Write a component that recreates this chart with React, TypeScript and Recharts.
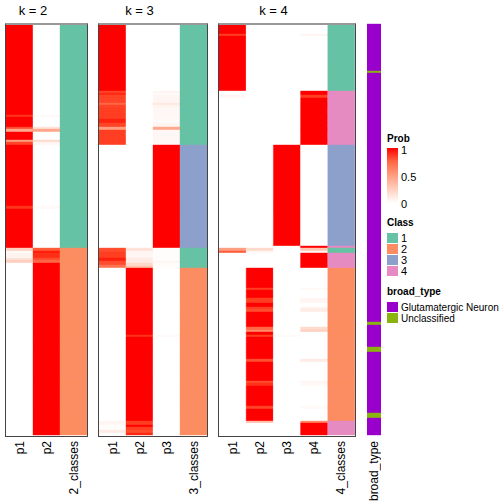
import React from 'react';
import { BarChart, Bar, XAxis, YAxis, Cell } from 'recharts';

// rows are counted from the top of the heatmap body; each run is [last row, value]
const N_ROWS = 411;

const k2p1 = [[91, 1], [93, 0.92], [103, 1], [105, 0.85], [108, 0.45], [116, 1], [118, 0.5], [121, 0.88], [182, 1], [185, 0.92], [224, 1], [227, 0.25], [229, 0.02], [234, 0.06], [236, 0.15], [239, 0.25], [411, 0]];
const k2p2 = [[91, 0], [93, 0.03], [103, 0], [105, 0.15], [108, 0.45], [116, 0], [118, 0.2], [121, 0.05], [182, 0], [185, 0.03], [224, 0], [227, 0.8], [229, 0.97], [234, 0.94], [236, 0.85], [239, 0.75], [411, 1]];
const k2cls = [[224, 1], [411, 2]];

const k3p1 = [[67, 1], [69, 0.88], [71, 0.95], [79, 0.88], [81, 0.75], [84, 0.88], [95, 0.9], [99, 0.96], [103, 0.88], [106, 0.5], [121, 0.9], [224, 0], [228, 0.85], [234, 0.9], [237, 0.97], [241, 0.85], [244, 0.7], [397, 0], [401, 0.05], [406, 0.01], [409, 0.1], [411, 0.01]];
const k3p2 = [[224, 0], [227, 0.15], [234, 0.05], [239, 0.1], [242, 0.2], [244, 0.3], [311, 1], [313, 0.93], [397, 1], [401, 0.9], [403, 1], [406, 0.9], [409, 0.85], [411, 0.95]];
const k3p3 = [[67, 0], [69, 0.05], [71, 0.02], [79, 0.05], [81, 0.12], [84, 0.06], [95, 0.04], [99, 0.02], [103, 0.06], [106, 0.45], [121, 0.04], [224, 1], [237, 0.01], [239, 0.05], [244, 0.01], [311, 0], [313, 0.03], [411, 0]];
const k3cls = [[121, 1], [224, 3], [244, 1], [411, 2]];

const k4p1 = [[10, 1], [12, 0.9], [67, 1], [71, 0], [74, 0.04], [224, 0], [227, 0.5], [229, 0.8], [411, 0]];
const k4p2 = [[224, 0], [227, 0.2], [229, 0.04], [244, 0], [264, 1], [266, 0.9], [274, 1], [279, 0.9], [283, 1], [285, 0.9], [288, 0.85], [303, 1], [306, 0.75], [308, 0.6], [311, 1], [313, 0.9], [335, 1], [338, 0.85], [357, 1], [359, 0.85], [362, 0.93], [382, 1], [385, 0.88], [397, 1], [399, 0.35], [411, 0]];
const k4p3 = [[121, 0], [222, 1], [311, 0], [313, 0.03], [411, 0]];
const k4p4 = [[10, 0], [12, 0.06], [67, 0], [71, 1], [74, 0.9], [121, 1], [222, 0], [224, 1], [227, 0.3], [229, 0.03], [244, 1], [264, 0], [266, 0.03], [274, 0], [279, 0.05], [283, 0], [285, 0.06], [288, 0.1], [303, 0], [306, 0.2], [308, 0.25], [335, 0], [338, 0.1], [357, 0], [359, 0.05], [362, 0.03], [382, 0], [385, 0.03], [397, 0], [399, 0.6], [411, 1]];
const k4cls = [[67, 1], [121, 4], [222, 3], [224, 4], [229, 1], [244, 4], [397, 2], [411, 4]];

const broadType = [[47, 'Glutamatergic Neuron'], [49, 'Unclassified'], [298, 'Glutamatergic Neuron'], [301, 'Unclassified'], [323, 'Glutamatergic Neuron'], [328, 'Unclassified'], [389, 'Glutamatergic Neuron'], [394, 'Unclassified'], [411, 'Glutamatergic Neuron']];

const classColors: Record<string, string> = { 1: '#66C2A5', 2: '#FC8D62', 3: '#8DA0CB', 4: '#E78AC3' };
const broadColors: Record<string, string> = { 'Glutamatergic Neuron': '#9900CC', Unclassified: '#8BB30E' };

const FONT = '"Liberation Sans", Arial, Helvetica, sans-serif';

// white -> red in Lab space, like colorRamp2
const toLin = (c: number) => { c /= 255; return c <= 0.04045 ? c / 12.92 : ((c + 0.055) / 1.055) ** 2.4; };
const fromLin = (c: number) => { const v = c <= 0.0031308 ? 12.92 * c : 1.055 * c ** (1 / 2.4) - 0.055; return Math.max(0, Math.min(255, Math.round(v * 255))); };
const Xn = 0.95047, Yn = 1, Zn = 1.08883;
const f = (t: number) => (t > 216 / 24389 ? Math.cbrt(t) : (24389 / 27 * t + 16) / 116);
const fi = (t: number) => (t ** 3 > 216 / 24389 ? t ** 3 : (116 * t - 16) / (24389 / 27));
function rgbToLab([r, g, b]: number[]) {
  const R = toLin(r), G = toLin(g), B = toLin(b);
  const X = 0.4124 * R + 0.3576 * G + 0.1805 * B;
  const Y = 0.2126 * R + 0.7152 * G + 0.0722 * B;
  const Z = 0.0193 * R + 0.1192 * G + 0.9505 * B;
  const fx = f(X / Xn), fy = f(Y / Yn), fz = f(Z / Zn);
  return [116 * fy - 16, 500 * (fx - fy), 200 * (fy - fz)];
}
function labToHex([L, a, b]: number[]) {
  const fy = (L + 16) / 116, fx = fy + a / 500, fz = fy - b / 200;
  const X = Xn * fi(fx), Y = Yn * fi(fy), Z = Zn * fi(fz);
  const R = 3.2406 * X - 1.5372 * Y - 0.4986 * Z;
  const G = -0.9689 * X + 1.8758 * Y + 0.0415 * Z;
  const B = 0.0557 * X - 0.204 * Y + 1.057 * Z;
  return '#' + [R, G, B].map((c) => fromLin(c).toString(16).padStart(2, '0')).join('');
}
const WHITE = rgbToLab([255, 255, 255]);
const RED = rgbToLab([255, 0, 0]);
const probColor = (t: number) => labToHex(WHITE.map((w, i) => w + (RED[i] - w) * t));

type Col = { name: string; runs: (number | string)[][]; kind: 'prob' | 'class' | 'broad' };

const panels: { title?: string; left: number; width: number; cols: Col[] }[] = [
  { title: 'k = 2', left: 6, width: 81, cols: [{ name: 'p1', runs: k2p1, kind: 'prob' }, { name: 'p2', runs: k2p2, kind: 'prob' }, { name: '2_classes', runs: k2cls, kind: 'class' }] },
  { title: 'k = 3', left: 99, width: 108, cols: [{ name: 'p1', runs: k3p1, kind: 'prob' }, { name: 'p2', runs: k3p2, kind: 'prob' }, { name: 'p3', runs: k3p3, kind: 'prob' }, { name: '3_classes', runs: k3cls, kind: 'class' }] },
  { title: 'k = 4', left: 219, width: 136, cols: [{ name: 'p1', runs: k4p1, kind: 'prob' }, { name: 'p2', runs: k4p2, kind: 'prob' }, { name: 'p3', runs: k4p3, kind: 'prob' }, { name: 'p4', runs: k4p4, kind: 'prob' }, { name: '4_classes', runs: k4cls, kind: 'class' }] },
  { left: 367, width: 14, cols: [{ name: 'broad_type', runs: broadType, kind: 'broad' }] },
];

// shared row segments: every run end of every column
const allRuns = [k2p1, k2p2, k2cls, k3p1, k3p2, k3p3, k3cls, k4p1, k4p2, k4p3, k4p4, k4cls, broadType];
const ends = Array.from(new Set(allRuns.flatMap((r) => r.map((x) => x[0] as number)))).sort((a, b) => a - b);
const segments = ends.map((e, i) => ({ end: e, len: e - (i ? ends[i - 1] : 0) }));

const valueAt = (runs: (number | string)[][], end: number) => runs.find((r) => (r[0] as number) >= end)![1];
const fillFor = (c: Col, end: number) => {
  const v = valueAt(c.runs, end);
  if (c.kind === 'prob') return probColor(v as number);
  if (c.kind === 'class') return classColors[String(v)];
  return broadColors[v as string];
};

const TOP = 24;
const BOTTOM = 435;

const RotTick = (props: any) => {
  const { x, y, payload } = props;
  return (
    <text transform={`translate(${x + 4},${y}) rotate(-90)`} textAnchor="end" fontSize={12} fontFamily={FONT} fill="#000">
      {payload.value}
    </text>
  );
};

function Panel({ p }: { p: (typeof panels)[number] }) {
  const data = p.cols.map((c) => {
    const row: Record<string, number | string> = { col: c.name };
    segments.forEach((s, i) => { row[`s${i}`] = s.len; });
    return row;
  });
  const probCount = p.cols.filter((c) => c.kind === 'prob').length;
  const colW = p.width / p.cols.length;
  return (
    <div style={{ position: 'absolute', left: p.left, top: 0 }}>
      <BarChart width={p.width} height={504} data={data} barCategoryGap={0} barGap={0}
        margin={{ top: TOP, right: 0, bottom: 504 - BOTTOM - 62, left: 0 }}>
        <XAxis dataKey="col" type="category" height={62} interval={0} tickLine={false} axisLine={false}
          tickSize={0} tickMargin={6} tick={<RotTick />} />
        <YAxis type="number" hide domain={[0, N_ROWS]} reversed />
        {segments.map((s, i) => (
          <Bar key={i} dataKey={`s${i}`} stackId="a" isAnimationActive={false}>
            {p.cols.map((c, j) => {
              const fill = fillFor(c, s.end);
              return <Cell key={j} fill={fill} stroke={fill} strokeWidth={0.4} />;
            })}
          </Bar>
        ))}
      </BarChart>
      {p.title && (
        <div style={{ position: 'absolute', top: 3, left: 0, width: colW * probCount, textAlign: 'center', fontFamily: FONT, fontSize: 13 }}>
          {p.title}
        </div>
      )}
      {p.title && (
        <div style={{ position: 'absolute', left: -1, top: TOP - 1, width: p.width, height: BOTTOM - TOP, borderLeft: '1px solid #444', borderRight: '1px solid #444', borderBottom: '1px solid #444', borderTop: '2px solid #999', boxSizing: 'content-box', pointerEvents: 'none' }} />
      )}
    </div>
  );
}

const probTicks = [1, 0.5, 0];
const classLevels = ['1', '2', '3', '4'];
const broadLevels = ['Glutamatergic Neuron', 'Unclassified'];

function Legends() {
  const stops = [0, 0.25, 0.5, 0.75, 1];
  return (
    <svg width={119} height={504} style={{ position: 'absolute', left: 385, top: 0 }} fontFamily={FONT}>
      <defs>
        <linearGradient id="prob" x1="0" y1="1" x2="0" y2="0">
          {stops.map((t) => <stop key={t} offset={t} stopColor={probColor(t)} />)}
        </linearGradient>
      </defs>
      <text x={2} y={142} fontSize={10} fontWeight="bold">Prob</text>
      <rect x={2} y={148} width={11} height={55} fill="url(#prob)" />
      {probTicks.map((t) => (
        <text key={t} x={16} y={154 + (1 - t) * 54} fontSize={11}>{t}</text>
      ))}
      <text x={2} y={226} fontSize={10} fontWeight="bold">Class</text>
      {classLevels.map((c, i) => (
        <g key={c}>
          <rect x={2} y={233 + i * 11} width={11} height={10} fill={classColors[c]} />
          <text x={16} y={242 + i * 11} fontSize={11}>{c}</text>
        </g>
      ))}
      <text x={2} y={295} fontSize={10} fontWeight="bold">broad_type</text>
      {broadLevels.map((b, i) => (
        <g key={b}>
          <rect x={2} y={302 + i * 11} width={11} height={10} fill={broadColors[b]} />
          <text x={16} y={311 + i * 11} fontSize={10}>{b}</text>
        </g>
      ))}
    </svg>
  );
}

export default function App() {
  return (
    <div style={{ position: 'absolute', left: 0, top: 0, width: 504, height: 504, background: '#fff' }}>
      {panels.map((p, i) => <Panel key={i} p={p} />)}
      <Legends />
    </div>
  );
}
